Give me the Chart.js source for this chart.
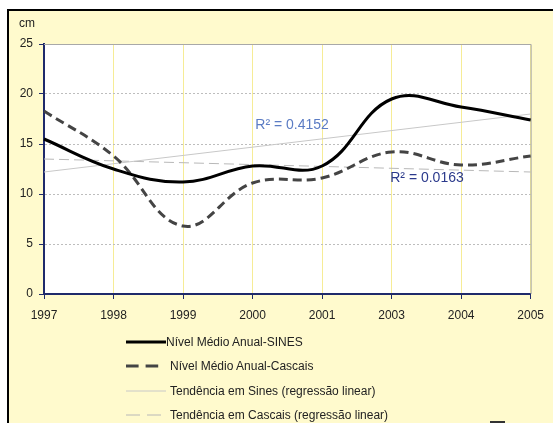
<!DOCTYPE html>
<html>
<head>
<meta charset="utf-8">
<script src="https://cdn.jsdelivr.net/npm/chart.js@4.4.0/dist/chart.umd.min.js"></script>
<style>
  body { margin: 0; background: #fff; }
  #wrap { position: relative; width: 553px; height: 423px; overflow: hidden; }
  #legend { position: absolute; left: 126px; top: 330px; font: 12px "Liberation Sans", Arial, sans-serif; color: #222; }
  .row { height: 24.3px; display: flex; align-items: center; white-space: nowrap; }
</style>
</head>
<body>
<div id="wrap">
  <canvas id="chart" width="553" height="423"></canvas>
  <div id="legend"></div>
</div>
<script>
// anos (2002 falta no original)
const years = ["1997", "1998", "1999", "2000", "2001", "2003", "2004", "2005"];
const sines = [15.5, 12.5, 11.2, 12.8, 12.8, 19.5, 18.7, 17.4];
const cascais = [18.3, 13.8, 6.8, 11.1, 11.6, 14.2, 12.9, 13.8];
// linhas de tendência: só os extremos, recta entre eles
const trendSines = [12.2, null, null, null, null, null, null, 18.0];
const trendCascais = [13.5, null, null, null, null, null, null, 12.2];
const yTicks = [0, 5, 10, 15, 20, 25];

const FONT = '"Liberation Sans", Arial, sans-serif';
const navy = "#1F2A6B";

const bgPlugin = {
  id: "bg",
  beforeDraw(chart) {
    const { ctx, chartArea: a } = chart;
    ctx.save();
    ctx.fillStyle = "#fff";
    ctx.fillRect(0, 0, chart.width, chart.height);
    ctx.fillStyle = "#FFFACD";
    ctx.fillRect(9, 11, chart.width - 9, chart.height - 11);
    ctx.fillStyle = "#000";
    ctx.fillRect(7, 9, chart.width - 7, 2);
    ctx.fillRect(7, 9, 2, chart.height - 9);
    ctx.fillStyle = "#fff";
    ctx.fillRect(a.left, a.top, a.right - a.left, a.bottom - a.top);
    ctx.fillStyle = "#333";
    ctx.fillRect(490, 421, 15, 2);
    // unidade
    ctx.fillStyle = "#222";
    ctx.font = "12px " + FONT;
    ctx.textBaseline = "middle";
    ctx.fillText("cm", 19, 24);
    ctx.restore();
  },
  beforeDatasetsDraw(chart) {
    const { ctx, chartArea: a } = chart;
    ctx.save();
    ctx.strokeStyle = "#A8A8A8";
    ctx.lineWidth = 1;
    ctx.beginPath();
    ctx.moveTo(a.left, a.top + 0.5);
    ctx.lineTo(a.right + 0.5, a.top + 0.5);
    ctx.lineTo(a.right + 0.5, a.bottom);
    ctx.stroke();
    ctx.restore();
  },
  afterDatasetsDraw(chart) {
    const { ctx } = chart;
    const x = chart.scales.x, y = chart.scales.y;
    ctx.save();
    ctx.font = "14px " + FONT;
    ctx.textBaseline = "middle";
    ctx.fillStyle = "#5B7CC4";
    ctx.fillText("R\u00B2 = 0.4152", x.getPixelForValue(3.04), y.getPixelForValue(16.85));
    ctx.fillStyle = "#2B3A8C";
    ctx.fillText("R\u00B2 = 0.0163", x.getPixelForValue(4.98), y.getPixelForValue(11.6));
    ctx.restore();
  }
};

const chart = new Chart(document.getElementById("chart"), {
  type: "line",
  data: {
    labels: years,
    datasets: [
      { label: "Nível Médio Anual-SINES", data: sines, borderColor: "#000", borderWidth: 3, tension: 0.4 },
      { label: "Nível Médio Anual-Cascais", data: cascais, borderColor: "#444", borderWidth: 3, borderDash: [9, 5], tension: 0.4 },
      { label: "Tendência em Sines (regressão linear)", data: trendSines, borderColor: "#C8C8C8", borderWidth: 1, spanGaps: true, tension: 0 },
      { label: "Tendência em Cascais (regressão linear)", data: trendCascais, borderColor: "#B8B8B8", borderWidth: 1, borderDash: [10, 5], spanGaps: true, tension: 0 }
    ]
  },
  options: {
    responsive: false,
    animation: false,
    devicePixelRatio: 1,
    elements: { point: { radius: 0 } },
    layout: { padding: { left: 0, top: 44, right: 19, bottom: 0 } },
    plugins: { legend: { display: false }, tooltip: { enabled: false } },
    scales: {
      x: {
        offset: false,
        grid: { color: "#F6EC96", tickColor: navy, tickLength: 5 },
        border: { color: navy, width: 2 },
        ticks: { font: { size: 12, family: FONT }, color: "#222", padding: 9, maxRotation: 0, autoSkip: false },
        afterFit(s) { s.height = 129; }
      },
      y: {
        min: 0, max: 25,
        afterBuildTicks(s) { s.ticks = yTicks.map(v => ({ value: v })); },
        grid: { color: "#BDBDBD", tickColor: navy, tickLength: 5 },
        border: { color: navy, width: 2, dash: [2, 2] },
        ticks: { font: { size: 12, family: FONT }, color: "#222", padding: 6 },
        afterFit(s) { s.width = 44; }
      }
    }
  },
  plugins: [bgPlugin]
});

// legenda em HTML (traços da amostra um pouco mais compridos, como no original)
const legend = document.getElementById("legend");
chart.data.datasets.forEach(ds => {
  const row = document.createElement("div");
  row.className = "row";
  const dashed = !!ds.borderDash;
  const dash = dashed ? ds.borderDash.map(d => d * 1.4).join(",") : "none";
  const w = ds.borderWidth > 1 && dashed ? 34 : 40;
  const gap = ds.borderWidth > 1 ? (dashed ? 10 : 0) : 4;
  row.innerHTML =
    `<svg width="${w}" height="6" style="margin-right:${gap}px"><line x1="0" y1="3" x2="${w}" y2="3" stroke="${ds.borderColor}" stroke-width="${ds.borderWidth}" stroke-dasharray="${dash}"/></svg>` +
    `<span>${ds.label}</span>`;
  legend.appendChild(row);
});
</script>
</body>
</html>
